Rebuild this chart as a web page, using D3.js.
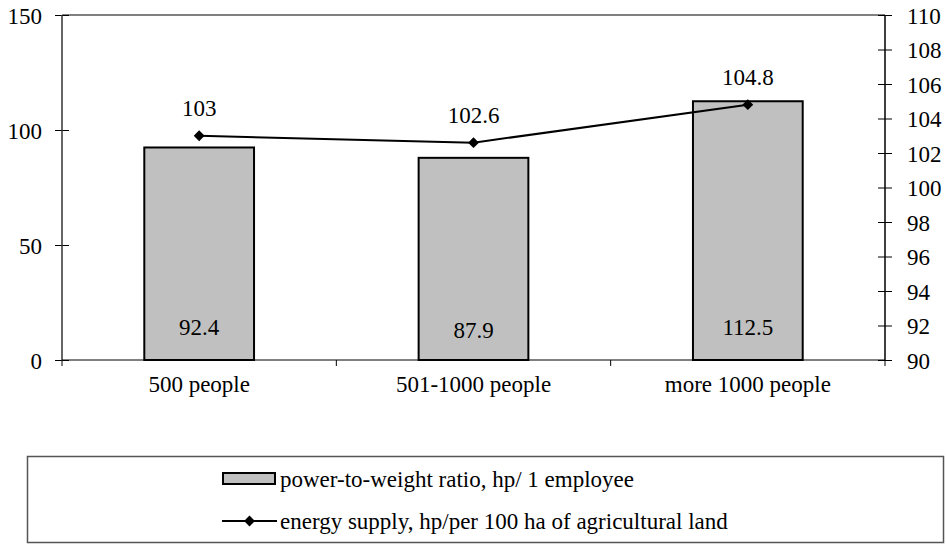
<!DOCTYPE html>
<html>
<head>
<meta charset="utf-8">
<script src="https://cdn.jsdelivr.net/npm/d3@7"></script>
</head>
<body style="margin:0; background:#fff">
<div class="displayArea"></div>
<script>
var categories = ["500 people", "501-1000 people", "more 1000 people"];
var powerRatio = [92.4, 87.9, 112.5];
var energySupply = [103, 102.6, 104.8];
var leftTicks = [0, 50, 100, 150];
var rightTicks = [90, 92, 94, 96, 98, 100, 102, 104, 106, 108, 110];
var legendLabels = ["power-to-weight ratio, hp/ 1 employee", "energy supply, hp/per 100 ha of agricultural land"];

var width = 946, height = 545;
var plotLeft = 62, plotRight = 885, plotTop = 15, plotBottom = 360; // plot box edges
var fontName = "Liberation Serif",
    fontSize = 23;

var svg = d3.select(".displayArea").append("svg")
    .attr("width", width).attr("height", height);

var x = d3.scaleBand().domain(categories)
    .range([plotLeft, plotRight]).paddingInner(0.6).paddingOuter(0.3);
var yL = d3.scaleLinear().domain([0, 150]).range([plotBottom, plotTop]);
var yR = d3.scaleLinear().domain([90, 110]).range([plotBottom, plotTop]);

// top border of plot
svg.append("line").attr("x1", plotLeft).attr("x2", plotRight)
    .attr("y1", plotTop).attr("y2", plotTop)
    .attr("stroke", "#808080").attr("stroke-width", 2);

// bars
svg.selectAll("rect.bar").data(powerRatio).enter().append("rect")
    .attr("class", "bar")
    .attr("x", function (d, i) { return x(categories[i]); })
    .attr("y", function (d) { return yL(d); })
    .attr("width", x.bandwidth())
    .attr("height", function (d) { return yL(0) - yL(d); })
    .attr("fill", "#c0c0c0").attr("stroke", "#000").attr("stroke-width", 2);

svg.selectAll("text.barlab").data(powerRatio).enter().append("text")
    .attr("x", function (d, i) { return x(categories[i]) + x.bandwidth() / 2; })
    .attr("y", function (d, i) { return i == 1 ? 338 : 335; })
    .attr("text-anchor", "middle")
    .text(function (d) { return d.toFixed(1); });

// axes
var leftAxis = d3.axisLeft(yL).tickValues(leftTicks).tickSize(7).tickPadding(13);
var gL = svg.append("g").attr("transform", "translate(" + plotLeft + ",0)").call(leftAxis);
var rightAxis = d3.axisRight(yR).tickValues(rightTicks).tickSize(7).tickPadding(15);
var gR = svg.append("g").attr("transform", "translate(" + plotRight + ",0)").call(rightAxis);
[gL, gR].forEach(function (g, k) {
    g.select(".domain").remove();
    g.selectAll(".tick line").attr("x1", k == 0 ? 7 : -7).attr("stroke", "#000");
    g.selectAll("text").attr("dy", "0.35em");
    g.append("line").attr("y1", plotTop).attr("y2", plotBottom + 1)
        .attr("stroke", k == 0 ? "#333" : "#000").attr("stroke-width", 1.5);
});

var bottomAxis = d3.axisBottom(x).tickSize(0).tickPadding(16);
var gB = svg.append("g").attr("transform", "translate(0," + plotBottom + ")").call(bottomAxis);
gB.select(".domain").remove();
gB.append("line").attr("x1", plotLeft).attr("x2", plotRight).attr("stroke", "#000");
gB.selectAll("line.sep").data(d3.range(categories.length + 1)).enter().append("line")
    .attr("x1", function (i) { return plotLeft + i * x.step(); })
    .attr("x2", function (i) { return plotLeft + i * x.step(); })
    .attr("y1", 0).attr("y2", 6).attr("stroke", "#000");

// line series
var cx = function (d, i) { return x(categories[i]) + x.bandwidth() / 2; };
svg.append("path").datum(energySupply)
    .attr("d", d3.line().x(cx).y(function (d) { return yR(d); }))
    .attr("fill", "none").attr("stroke", "#000").attr("stroke-width", 2);
var diamond = d3.symbol().type(d3.symbolDiamond2).size(75);
svg.selectAll("path.pt").data(energySupply).enter().append("path")
    .attr("transform", function (d, i) { return "translate(" + cx(d, i) + "," + yR(d) + ")"; })
    .attr("d", diamond).attr("fill", "#000");
svg.selectAll("text.ptlab").data(energySupply).enter().append("text")
    .attr("x", cx)
    .attr("y", function (d) { return yR(d) - 19.5; })
    .attr("text-anchor", "middle")
    .text(function (d) { return d; });

// legend
var lg = svg.append("g");
lg.append("rect").attr("x", 27.5).attr("y", 456.5).attr("width", 916).attr("height", 86)
    .attr("fill", "#fff").attr("stroke", "#555").attr("stroke-width", 1.5);
lg.append("rect").attr("x", 223).attr("y", 473).attr("width", 52).attr("height", 11)
    .attr("fill", "#c0c0c0").attr("stroke", "#000").attr("stroke-width", 2);
lg.append("line").attr("x1", 222).attr("x2", 277).attr("y1", 521).attr("y2", 521)
    .attr("stroke", "#000").attr("stroke-width", 2);
lg.append("path").attr("transform", "translate(249.5,521)").attr("d", diamond).attr("fill", "#000");
lg.selectAll("text").data(legendLabels).enter().append("text")
    .attr("x", 280)
    .attr("y", function (d, i) { return 479 + i * 42; })
    .attr("dy", "0.35em")
    .text(function (d) { return d; });

// serif everywhere, set on each text node
svg.selectAll("g").attr("font-family", fontName).attr("font-size", fontSize);
svg.selectAll("text").attr("font-family", fontName).attr("font-size", fontSize).attr("fill", "#000");
</script>
</body>
</html>
